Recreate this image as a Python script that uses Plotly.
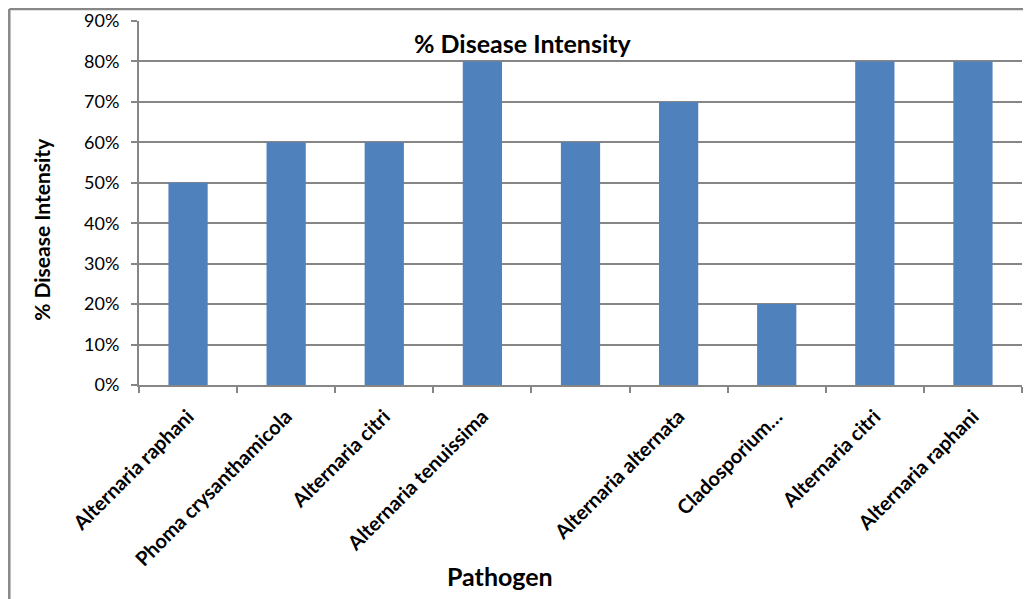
import plotly.graph_objects as go

categories = ["Alternaria raphani", "Phoma crysanthamicola", "Alternaria citri",
              "Alternaria tenuissima", "", "Alternaria alternata", "Cladosporium…",
              "Alternaria citri", "Alternaria raphani"]
values = [0.50, 0.60, 0.60, 0.80, 0.60, 0.70, 0.20, 0.80, 0.80]
y_ticks = [0, 0.1, 0.2, 0.3, 0.4, 0.5, 0.6, 0.7, 0.8, 0.9]
y_labels = ["0%", "10%", "20%", "30%", "40%", "50%", "60%", "70%", "80%", "90%"]

xpos = list(range(len(categories)))
FONT = "Lato"
GRAY = "#868686"

fig = go.Figure(go.Bar(x=xpos, y=values, marker=dict(color="#4F81BD", line=dict(width=0)),
                       width=0.4))

fig.update_layout(
    width=1023, height=591,
    margin=dict(l=131, r=9, t=13, b=214),
    paper_bgcolor="white", plot_bgcolor="white",
    showlegend=False,
    font=dict(family=FONT, color="black", size=17),
    xaxis=dict(
        range=[-0.5, len(categories) - 0.5], automargin=False,
        tickmode="array", tickvals=xpos, ticktext=["<b>%s</b>" % c for c in categories],
        tickangle=-45, ticks="", showgrid=False, ticklabelstandoff=10,
        showline=True, linecolor=GRAY, linewidth=2,
        tickfont=dict(family=FONT, size=20),
        minor=dict(tickmode="array", tickvals=[i - 0.5 for i in range(len(categories) + 1)],
                   ticks="outside", ticklen=6, tickcolor=GRAY, tickwidth=2, showgrid=False),
        zeroline=False, fixedrange=True,
    ),
    yaxis=dict(
        range=[0, 0.9], automargin=False, tickmode="array", tickvals=y_ticks, ticktext=y_labels,
        ticks="outside", ticklen=6, tickcolor=GRAY, tickwidth=2, ticklabelstandoff=8,
        showgrid=True, gridcolor=GRAY, gridwidth=1.5,
        showline=True, linecolor=GRAY, linewidth=2,
        tickfont=dict(family=FONT, size=18), zeroline=False, fixedrange=True,
    ),
    annotations=[
        dict(text="<b>% Disease Intensity</b>", xref="paper", yref="paper",
             x=0.435, y=0.9396, showarrow=False, font=dict(family=FONT, size=25),
             xanchor="center", yanchor="middle"),
        dict(text="<b>% Disease Intensity</b>", xref="paper", yref="paper",
             x=-0.11, y=0.4286, showarrow=False, textangle=-90,
             font=dict(family=FONT, size=21), xanchor="center", yanchor="middle"),
        dict(text="<b>Pathogen</b>", xref="paper", yref="paper",
             x=0.409, y=-0.524, showarrow=False, font=dict(family=FONT, size=25),
             xanchor="center", yanchor="middle"),
    ],
    shapes=[
        dict(type="line", xref="paper", yref="paper", x0=-0.1469, x1=1.0102,
             y0=1.033, y1=1.033, line=dict(color="#878787", width=2.5)),
        dict(type="line", xref="paper", yref="paper", x0=-0.1469, x1=-0.1469,
             y0=1.033, y1=-0.6, line=dict(color="#878787", width=2.5)),
    ],
)

fig.write_html("out.html")
